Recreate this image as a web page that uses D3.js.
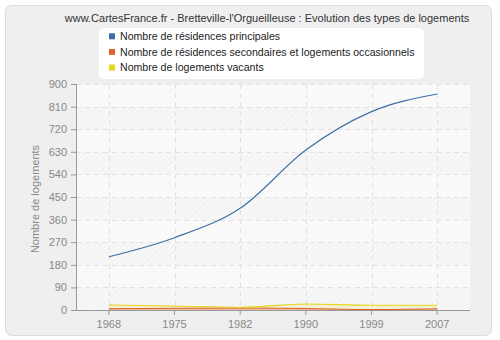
<!DOCTYPE html>
<html><head><meta charset="utf-8">
<script src="https://cdn.jsdelivr.net/npm/d3@7"></script>
<style>body{margin:0;background:#fff}svg{display:block;font-family:"Liberation Sans",Arial,sans-serif}</style>
</head><body>
<script>
const years = ["1968","1975","1982","1990","1999","2007"];
const principales = [212, 288, 405, 637, 790, 860];
const secondaires = [5, 7, 8, 6, 2, 5];
const vacants = [20, 16, 11, 24, 19, 19];
const yTicks = [0, 90, 180, 270, 360, 450, 540, 630, 720, 810, 900];
const seriesNames = ["Nombre de résidences principales", "Nombre de résidences secondaires et logements occasionnels", "Nombre de logements vacants"];
const colors = ["#3d6ea6", "#e0612b", "#e5d51b"];

const W = 500, H = 340;
const FONT = "'Liberation Sans',Arial,sans-serif";
const svg = d3.select("body").append("svg").attr("width", W).attr("height", H);
const defs = svg.append("defs");
const pat = defs.append("pattern").attr("id","hatch").attr("width",4).attr("height",4)
  .attr("patternUnits","userSpaceOnUse").attr("patternTransform","rotate(45)");
pat.append("rect").attr("width",4).attr("height",4).attr("fill","#f7f7f7");
pat.append("line").attr("x1",0).attr("y1",0).attr("x2",0).attr("y2",4).attr("stroke","#ececec").attr("stroke-width",1);

svg.append("rect").attr("x",5.5).attr("y",5.5).attr("width",486).attr("height",330).attr("rx",6)
  .attr("fill","#efefef").attr("stroke","#dcdcdc");

const L = 76, R = 470, T = 84, B = 310;
const x = d3.scaleBand().domain(years).range([L, R]);
const y = d3.scaleLinear().domain([0, 900]).range([B, T]);
const cx = d => x(d) + x.bandwidth()/2;

svg.append("rect").attr("x",L).attr("y",T).attr("width",R-L).attr("height",B-T).attr("fill","url(#hatch)");
for (let i = 0; i < yTicks.length-1; i++) {
  if (i % 2 === 0) continue;
  svg.append("rect").attr("x",L).attr("y",y(yTicks[i+1])).attr("width",R-L)
    .attr("height",y(yTicks[i])-y(yTicks[i+1])).attr("fill","#fafafa").attr("opacity",0.8);
}
svg.append("g").selectAll("line").data(yTicks.slice(1)).join("line")
  .attr("x1",L).attr("x2",R).attr("y1",d=>Math.round(y(d))+0.5).attr("y2",d=>Math.round(y(d))+0.5)
  .attr("stroke","#e2e2e2").attr("stroke-dasharray","5,4");
svg.append("g").selectAll("line").data(years).join("line")
  .attr("x1",d=>Math.round(cx(d))+0.5).attr("x2",d=>Math.round(cx(d))+0.5).attr("y1",T).attr("y2",B)
  .attr("stroke","#e2e2e2").attr("stroke-dasharray","5,4");

const line = d3.line().x((d,i)=>cx(years[i])).y(d=>y(d)).curve(d3.curveMonotoneX);
const area = d3.area().x((d,i)=>cx(years[i])).y0(B).y1(d=>y(d)).curve(d3.curveMonotoneX);

svg.append("path").datum(vacants).attr("d",area).attr("fill",colors[2]).attr("opacity",0.15);
svg.append("path").datum(secondaires).attr("d",area).attr("fill",colors[1]).attr("opacity",0.35);
[principales, secondaires, vacants].forEach((s,i)=>{
  svg.append("path").datum(s).attr("d",line).attr("fill","none").attr("stroke",colors[i]).attr("stroke-width",1.1);
});

const ya = svg.append("g").attr("transform",`translate(${L},0)`)
  .call(d3.axisLeft(y).tickValues(yTicks).tickSize(5).tickPadding(4));
const xa = svg.append("g").attr("transform",`translate(0,${B})`)
  .call(d3.axisBottom(x).tickSize(5).tickPadding(5));
[ya, xa].forEach(g=>{
  g.selectAll("path").attr("stroke","#999");
  g.selectAll("line").attr("stroke","#999");
  g.selectAll("text").attr("fill","#888").attr("font-size","11px").attr("font-family",FONT);
});
xa.select(".domain").attr("d",`M${L},0.5H${R}`);
ya.select(".domain").attr("d",`M0.5,${T}V${B}`);

svg.append("text").attr("transform",`translate(39,${(T+B)/2+2}) rotate(-90)`).attr("text-anchor","middle")
  .attr("font-size","11px").attr("fill","#888").text("Nombre de logements");

svg.append("text").attr("x",267).attr("y",22).attr("text-anchor","middle").attr("font-size","11px")
  .attr("fill","#333").text("www.CartesFrance.fr - Bretteville-l'Orgueilleuse : Evolution des types de logements");

const lg = svg.append("g");
lg.append("rect").attr("x",99).attr("y",28).attr("width",325).attr("height",51).attr("rx",5).attr("fill","#fff");
seriesNames.forEach((n,i)=>{
  lg.append("rect").attr("x",109).attr("y",33.3+i*15.6).attr("width",6).attr("height",6).attr("fill",colors[i]);
  lg.append("text").attr("x",120).attr("y",40.2+i*15.6).attr("font-size","10.6px").attr("fill","#222").text(n);
});
</script>
</body></html>
